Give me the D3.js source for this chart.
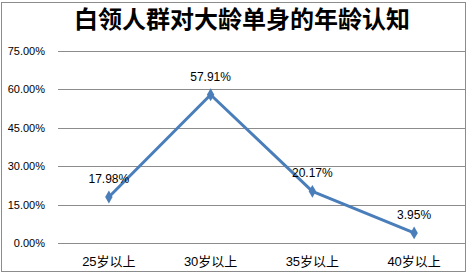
<!DOCTYPE html>
<html><head><meta charset="utf-8">
<script src="https://cdn.jsdelivr.net/npm/d3@7"></script>
<style>body{margin:0;background:#fff}svg{display:block}</style>
</head><body>
<svg id="c" width="470" height="275"></svg>
<script>
const title = "白领人群对大龄单身的年龄认知";
const categories = ["25岁以上", "30岁以上", "35岁以上", "40岁以上"];
const values = [17.98, 57.91, 20.17, 3.95];
const yTicks = [0, 15, 30, 45, 60, 75];

const svg = d3.select("#c");
const plot = {left: 58, right: 465, top: 51, bottom: 243};

svg.append("rect").attr("x", 1.5).attr("y", 2.5).attr("width", 464).attr("height", 269)
  .attr("fill", "#fff").attr("stroke", "#8c8c8c").attr("stroke-width", 1);

svg.append("text").attr("x", 242).attr("y", 28).attr("text-anchor", "middle")
  .attr("font-family", "'Noto Sans CJK SC', sans-serif").attr("font-weight", 700)
  .attr("font-size", 24).attr("fill", "#000").text(title);

const x = d3.scaleBand().domain(categories).range([plot.left, plot.right]);
const y = d3.scaleLinear().domain([0, 75]).range([plot.bottom, plot.top]);

const yAxis = d3.axisLeft(y).tickValues(yTicks).tickSize(-(plot.right - plot.left))
  .tickPadding(13).tickFormat(d => d.toFixed(2) + "%");
const gy = svg.append("g").attr("transform", `translate(${plot.left},0)`).call(yAxis);
gy.select(".domain").remove();
gy.selectAll(".tick line").attr("stroke", "#8c8c8c").attr("shape-rendering", "crispEdges");
gy.selectAll(".tick text").attr("font-family", "'Liberation Sans', Arial, sans-serif")
  .attr("font-size", 11).attr("fill", "#000");

const gx = svg.append("g").attr("transform", `translate(0,${plot.bottom})`)
  .call(d3.axisBottom(x).tickSize(0).tickPadding(14));
gx.select(".domain").remove();
gx.selectAll(".tick text").attr("font-family", "'Liberation Sans', 'Noto Sans CJK SC', sans-serif")
  .attr("font-size", 13).attr("fill", "#000");

const cx = d => x(d) + x.bandwidth() / 2;
const pts = categories.map((c, i) => [cx(c), y(values[i])]);

svg.append("path").attr("d", d3.line()(pts)).attr("fill", "none")
  .attr("stroke", "#4a7ebb").attr("stroke-width", 3).attr("stroke-linejoin", "round");

svg.selectAll(".m").data(pts).join("path").attr("class", "m")
  .attr("d", d3.symbol(d3.symbolDiamond, 48)())
  .attr("transform", d => `translate(${d[0]},${d[1]})`).attr("fill", "#4a7ebb");

svg.selectAll(".lbl").data(values).join("text").attr("class", "lbl")
  .attr("x", (d, i) => cx(categories[i])).attr("y", d => y(d) - 14)
  .attr("text-anchor", "middle").attr("font-family", "'Liberation Sans', Arial, sans-serif")
  .attr("font-size", 12).attr("fill", "#000").text(d => d.toFixed(2) + "%");
</script>
</body></html>
